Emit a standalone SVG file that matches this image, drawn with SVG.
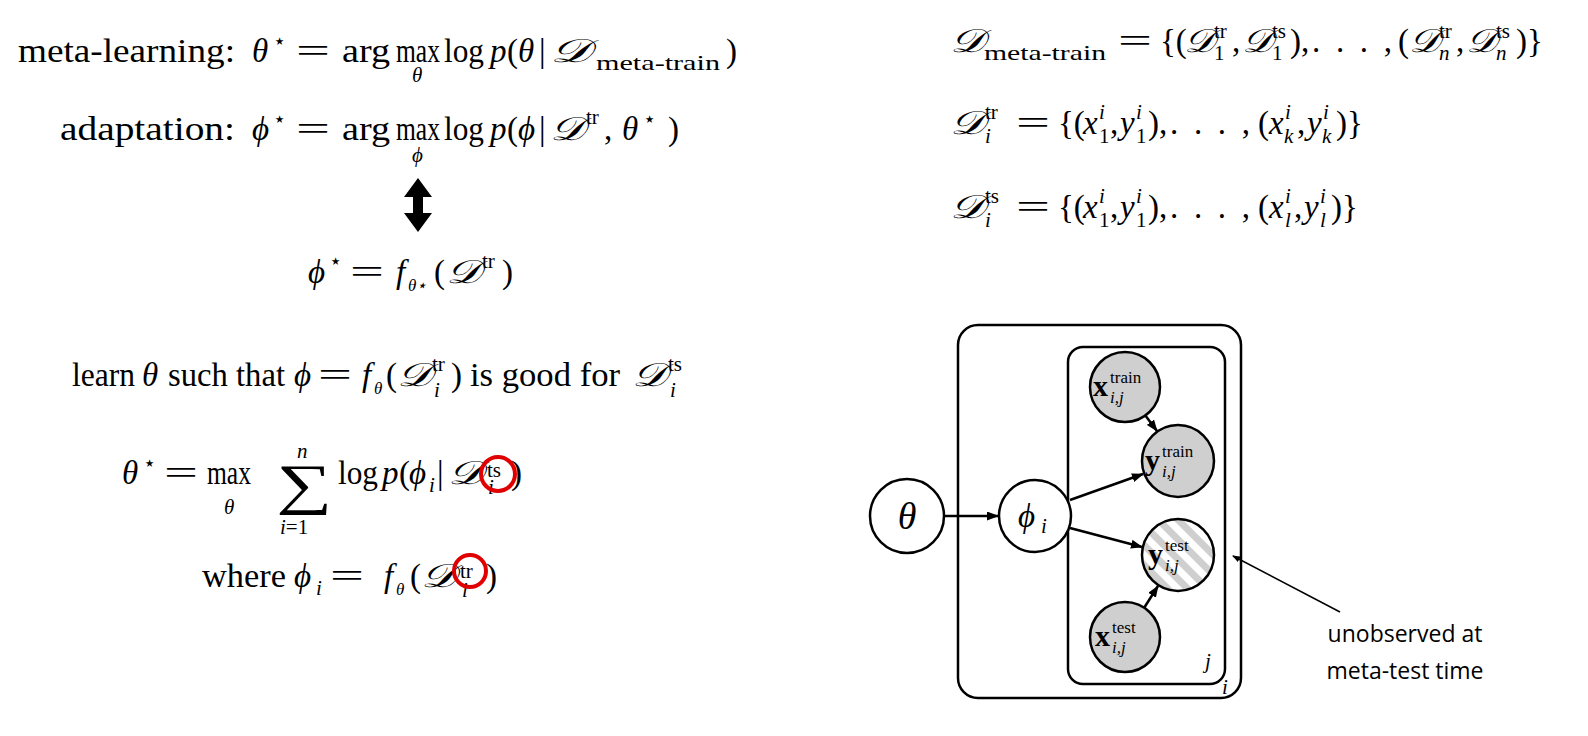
<svg xmlns="http://www.w3.org/2000/svg" width="1588" height="736" viewBox="0 0 1588 736">
<style>
text{font-family:"Liberation Serif",serif;fill:#000}
.m{font-size:33px}
.s{font-size:21px}
.t{font-size:17px}
.i{font-style:italic}
.n{fill:#fff;stroke:#000;stroke-width:2.5}
.g{fill:#cfcfcf;stroke:#000;stroke-width:2.5}
.p{fill:none;stroke:#000;stroke-width:2.5}
.e{stroke:#000;stroke-width:2.5;fill:none;marker-end:url(#ah)}
.lbl{font-family:"Open Sans",sans-serif;font-size:23px;text-anchor:middle}
.red{fill:none;stroke:#e00000;stroke-width:4}
.b{font-weight:bold;font-size:30px}
</style>
<defs>
<marker id="ah" markerWidth="12" markerHeight="9" refX="11" refY="4.5" orient="auto" markerUnits="userSpaceOnUse"><path d="M0,0 L12,4.5 L0,9 Z" fill="#000"/></marker>
<marker id="ah2" markerWidth="8" markerHeight="6" refX="7" refY="3" orient="auto" markerUnits="userSpaceOnUse"><path d="M0,0 L8,3 L0,6 Z" fill="#000"/></marker>
<pattern id="hatch" width="14" height="14" patternUnits="userSpaceOnUse" patternTransform="rotate(-45)"><rect width="14" height="14" fill="#fff"/><rect width="7" height="14" fill="#cfcfcf"/></pattern>
</defs>
<rect width="1588" height="736" fill="#fff"/>

<g id="eq-meta-learning">
<text class="m" x="18" y="62" textLength="217" lengthAdjust="spacingAndGlyphs">meta-learning:</text>
<text class="m i" x="252" y="62">θ</text><text class="s" x="273" y="48">⋆</text>
<text class="m" x="296" y="62" textLength="34" lengthAdjust="spacingAndGlyphs">=</text>
<text class="m" x="342" y="62" textLength="48" lengthAdjust="spacingAndGlyphs">arg</text>
<text class="m" x="396" y="62" textLength="44" lengthAdjust="spacingAndGlyphs">max</text>
<text class="s i" x="412" y="82">θ</text>
<text class="m" x="444" y="62" textLength="40" lengthAdjust="spacingAndGlyphs">log</text>
<text class="m i" x="490" y="62">p</text><text class="m" x="507" y="62">(</text><text class="m i" x="518" y="62">θ</text><text class="m" x="539" y="62">|</text>
<text class="m i" x="550" y="62" textLength="40" lengthAdjust="spacingAndGlyphs">𝒟</text>
<text class="s" x="596" y="70" textLength="124" lengthAdjust="spacingAndGlyphs">meta-train</text>
<text class="m" x="726" y="62">)</text>
</g>

<g id="eq-adaptation">
<text class="m" x="60" y="140" textLength="175" lengthAdjust="spacingAndGlyphs">adaptation:</text>
<text class="m i" x="252" y="140">ϕ</text><text class="s" x="273" y="126">⋆</text>
<text class="m" x="296" y="140" textLength="34" lengthAdjust="spacingAndGlyphs">=</text>
<text class="m" x="342" y="140" textLength="48" lengthAdjust="spacingAndGlyphs">arg</text>
<text class="m" x="396" y="140" textLength="44" lengthAdjust="spacingAndGlyphs">max</text>
<text class="s i" x="412" y="162">ϕ</text>
<text class="m" x="444" y="140" textLength="40" lengthAdjust="spacingAndGlyphs">log</text>
<text class="m i" x="490" y="140">p</text><text class="m" x="507" y="140">(</text><text class="m i" x="518" y="140">ϕ</text><text class="m" x="539" y="140">|</text>
<text class="m i" x="550" y="140" textLength="34" lengthAdjust="spacingAndGlyphs">𝒟</text><text class="s" x="586" y="124">tr</text>
<text class="m" x="604" y="140">,</text><text class="m i" x="622" y="140">θ</text><text class="s" x="643" y="126">⋆</text>
<text class="m" x="668" y="140">)</text>
</g>

<path id="double-arrow" d="M418,178 L432,197 L423,197 L423,213 L432,213 L418,232 L404,213 L413,213 L413,197 L404,197 Z" fill="#000"/>

<g id="eq-phi">
<text class="m i" x="308" y="283">ϕ</text><text class="s" x="329" y="268">⋆</text>
<text class="m" x="350" y="283" textLength="34" lengthAdjust="spacingAndGlyphs">=</text>
<text class="m i" x="396" y="283">f</text><text class="t i" x="408" y="291">θ⋆</text>
<text class="m" x="434" y="283">(</text><text class="m i" x="446" y="283" textLength="34" lengthAdjust="spacingAndGlyphs">𝒟</text><text class="s" x="482" y="268">tr</text><text class="m" x="502" y="283">)</text>
</g>

<g id="eq-learn">
<text class="m" x="72" y="386" textLength="63" lengthAdjust="spacingAndGlyphs">learn</text>
<text class="m i" x="142" y="386">θ</text>
<text class="m" x="168" y="386" textLength="117" lengthAdjust="spacingAndGlyphs">such that</text>
<text class="m i" x="294" y="386">ϕ</text>
<text class="m" x="318" y="386" textLength="34" lengthAdjust="spacingAndGlyphs">=</text>
<text class="m i" x="362" y="386">f</text><text class="t i" x="374" y="394">θ</text>
<text class="m" x="386" y="386">(</text><text class="m i" x="397" y="386" textLength="34" lengthAdjust="spacingAndGlyphs">𝒟</text><text class="s" x="432" y="371">tr</text><text class="s i" x="434" y="397">i</text><text class="m" x="451" y="386">)</text>
<text class="m" x="470" y="386" textLength="150" lengthAdjust="spacingAndGlyphs">is good for</text>
<text class="m i" x="632" y="386" textLength="34" lengthAdjust="spacingAndGlyphs">𝒟</text><text class="s" x="668" y="371">ts</text><text class="s i" x="670" y="397">i</text>
</g>

<g id="eq-theta-star">
<text class="m i" x="122" y="484">θ</text><text class="s" x="143" y="470">⋆</text>
<text class="m" x="164" y="484" textLength="34" lengthAdjust="spacingAndGlyphs">=</text>
<text class="m" x="207" y="484" textLength="44" lengthAdjust="spacingAndGlyphs">max</text>
<text class="s i" x="224" y="514">θ</text>
<text x="276" y="503" font-size="56" textLength="56" lengthAdjust="spacingAndGlyphs">∑</text>
<text class="s i" x="297" y="458">n</text>
<text class="s" x="280" y="534"><tspan class="i">i</tspan>=1</text>
<text class="m" x="338" y="484" textLength="40" lengthAdjust="spacingAndGlyphs">log</text>
<text class="m i" x="382" y="484">p</text><text class="m" x="399" y="484">(</text><text class="m i" x="409" y="484">ϕ</text><text class="s i" x="429" y="492">i</text><text class="m" x="437" y="484">|</text>
<text class="m i" x="448" y="484" textLength="34" lengthAdjust="spacingAndGlyphs">𝒟</text><text class="s" x="487" y="477">ts</text><text class="s i" x="488" y="494">i</text><text class="m" x="511" y="484">)</text>
<circle class="red" cx="498" cy="474" r="17"/>
</g>

<g id="eq-where">
<text class="m" x="202" y="587" textLength="84" lengthAdjust="spacingAndGlyphs">where</text>
<text class="m i" x="294" y="587">ϕ</text><text class="s i" x="316" y="595">i</text>
<text class="m" x="330" y="587" textLength="34" lengthAdjust="spacingAndGlyphs">=</text>
<text class="m i" x="384" y="587">f</text><text class="t i" x="396" y="595">θ</text>
<text class="m" x="410" y="587">(</text><text class="m i" x="421" y="587" textLength="34" lengthAdjust="spacingAndGlyphs">𝒟</text><text class="s" x="460" y="578">tr</text><text class="s i" x="462" y="597">i</text><text class="m" x="486" y="587">)</text>
<circle class="red" cx="470" cy="571" r="16"/>
</g>

<g id="eq-dmeta">
<text class="m i" x="950" y="52" textLength="34" lengthAdjust="spacingAndGlyphs">𝒟</text>
<text class="s" x="984" y="60" textLength="122" lengthAdjust="spacingAndGlyphs">meta-train</text>
<text class="m" x="1118" y="52" textLength="34" lengthAdjust="spacingAndGlyphs">=</text>
<text class="m" x="1160" y="52">{(</text>
<text class="m i" x="1184" y="52" textLength="30" lengthAdjust="spacingAndGlyphs">𝒟</text><text class="s" x="1214" y="38">tr</text><text class="s" x="1214" y="60">1</text><text class="m" x="1232" y="52">,</text>
<text class="m i" x="1242" y="52" textLength="30" lengthAdjust="spacingAndGlyphs">𝒟</text><text class="s" x="1272" y="38">ts</text><text class="s" x="1272" y="60">1</text><text class="m" x="1290" y="52">),</text>
<text class="m" x="1312" y="52" textLength="80" lengthAdjust="spacing">. . . ,</text>
<text class="m" x="1398" y="52">(</text>
<text class="m i" x="1409" y="52" textLength="30" lengthAdjust="spacingAndGlyphs">𝒟</text><text class="s" x="1439" y="38">tr</text><text class="s i" x="1439" y="60">n</text><text class="m" x="1456" y="52">,</text>
<text class="m i" x="1466" y="52" textLength="30" lengthAdjust="spacingAndGlyphs">𝒟</text><text class="s" x="1496" y="38">ts</text><text class="s i" x="1496" y="60">n</text><text class="m" x="1516" y="52">)}</text>
</g>

<g id="eq-dtr">
<text class="m i" x="950" y="134" textLength="34" lengthAdjust="spacingAndGlyphs">𝒟</text><text class="s" x="985" y="119">tr</text><text class="s i" x="985" y="143">i</text>
<text class="m" x="1016" y="134" textLength="34" lengthAdjust="spacingAndGlyphs">=</text>
<text class="m" x="1058" y="134">{(</text>
<text class="m i" x="1083" y="134">x</text><text class="s i" x="1099" y="119">i</text><text class="s" x="1099" y="143">1</text><text class="m" x="1110" y="134">,</text>
<text class="m i" x="1120" y="134">y</text><text class="s i" x="1136" y="119">i</text><text class="s" x="1136" y="143">1</text><text class="m" x="1148" y="134">),</text>
<text class="m" x="1170" y="134" textLength="80" lengthAdjust="spacing">. . . ,</text>
<text class="m" x="1258" y="134">(</text>
<text class="m i" x="1269" y="134">x</text><text class="s i" x="1285" y="119">i</text><text class="s i" x="1284" y="143">k</text><text class="m" x="1297" y="134">,</text>
<text class="m i" x="1307" y="134">y</text><text class="s i" x="1323" y="119">i</text><text class="s i" x="1322" y="143">k</text><text class="m" x="1336" y="134">)}</text>
</g>

<g id="eq-dts">
<text class="m i" x="950" y="218" textLength="34" lengthAdjust="spacingAndGlyphs">𝒟</text><text class="s" x="985" y="203">ts</text><text class="s i" x="985" y="227">i</text>
<text class="m" x="1016" y="218" textLength="34" lengthAdjust="spacingAndGlyphs">=</text>
<text class="m" x="1058" y="218">{(</text>
<text class="m i" x="1083" y="218">x</text><text class="s i" x="1099" y="203">i</text><text class="s" x="1099" y="227">1</text><text class="m" x="1110" y="218">,</text>
<text class="m i" x="1120" y="218">y</text><text class="s i" x="1136" y="203">i</text><text class="s" x="1136" y="227">1</text><text class="m" x="1148" y="218">),</text>
<text class="m" x="1170" y="218" textLength="80" lengthAdjust="spacing">. . . ,</text>
<text class="m" x="1258" y="218">(</text>
<text class="m i" x="1269" y="218">x</text><text class="s i" x="1285" y="203">i</text><text class="s i" x="1285" y="227">l</text><text class="m" x="1294" y="218">,</text>
<text class="m i" x="1304" y="218">y</text><text class="s i" x="1320" y="203">i</text><text class="s i" x="1320" y="227">l</text><text class="m" x="1331" y="218">)}</text>
</g>

<g id="plate-i"><rect class="p" x="958" y="325" width="283" height="373" rx="20"/><text class="s i" x="1222" y="694">i</text></g>
<g id="plate-j"><rect class="p" x="1068" y="347" width="157" height="337" rx="15"/><text class="s i" x="1205" y="668">j</text></g>

<g id="connectors">
<line class="e" x1="944" y1="516" x2="998" y2="516"/>
<line class="e" x1="1070" y1="500" x2="1143" y2="474"/>
<line class="e" x1="1070" y1="528" x2="1142" y2="547"/>
<line class="e" x1="1145" y1="415" x2="1157" y2="431"/>
<line class="e" x1="1144" y1="608" x2="1158" y2="586"/>
<line stroke="#000" stroke-width="1.5" x1="1340" y1="612" x2="1233" y2="556" marker-end="url(#ah2)"/>
</g>

<g id="theta"><circle class="n" cx="907" cy="516" r="37"/><text class="i" x="907" y="529" font-size="38" text-anchor="middle">θ</text></g>
<g id="phi"><circle class="n" cx="1035" cy="516" r="36"/><text class="m i" x="1018" y="527">ϕ</text><text class="s i" x="1041" y="533">i</text></g>
<g id="x-train"><circle class="g" cx="1125" cy="387" r="35"/><text class="b" x="1093" y="396">x</text><text class="t" x="1110" y="383">train</text><text class="t i" x="1110" y="403">i,j</text></g>
<g id="y-train"><circle class="g" cx="1178" cy="461" r="36"/><text class="b" x="1145" y="470">y</text><text class="t" x="1162" y="457">train</text><text class="t i" x="1162" y="477">i,j</text></g>
<g id="y-test"><circle cx="1178" cy="555" r="36" fill="url(#hatch)" stroke="#000" stroke-width="2.5"/><text class="b" x="1148" y="564">y</text><text class="t" x="1165" y="551">test</text><text class="t i" x="1165" y="571">i,j</text></g>
<g id="x-test"><circle class="g" cx="1125" cy="637" r="35"/><text class="b" x="1095" y="646">x</text><text class="t" x="1112" y="633">test</text><text class="t i" x="1112" y="653">i,j</text></g>

<g id="note"><text class="lbl" x="1405" y="642">unobserved at</text><text class="lbl" x="1405" y="679">meta-test time</text></g>
</svg>
